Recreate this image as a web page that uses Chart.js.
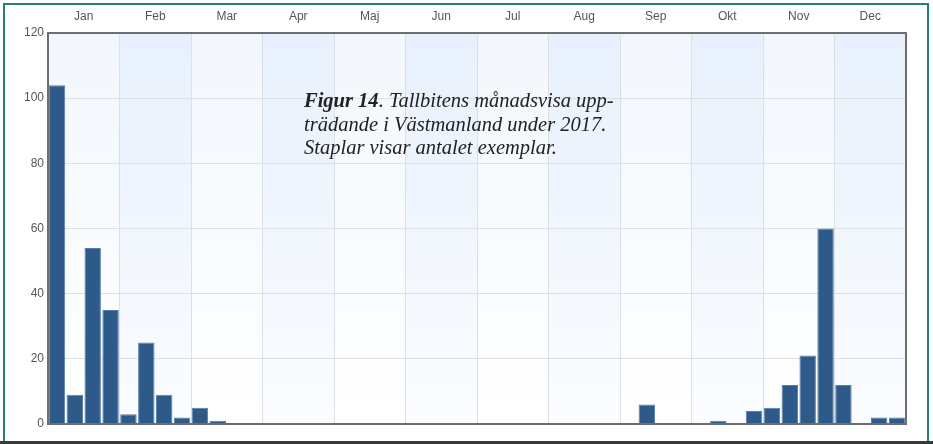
<!DOCTYPE html>
<html>
<head>
<meta charset="utf-8">
<script src="https://cdn.jsdelivr.net/npm/chart.js@4"></script>
<style>
  body { margin: 0; background: #fff; }
  #wrap { position: relative; width: 933px; height: 444px; }
  #note {
    position: absolute; left: 304px; top: 89px;
    font-family: "Liberation Serif", "Times New Roman", serif;
    font-style: italic; font-size: 20.5px; line-height: 23.5px; color: #222;
  }
</style>
</head>
<body>
<div id="wrap">
  <canvas id="chart" width="933" height="444"></canvas>
  <div id="note"><b>Figur 14</b>. Tallbitens månadsvisa upp-<br>trädande i Västmanland under 2017.<br>Staplar visar antalet exemplar.</div>
</div>
<script>
// 4 periods per month, 48 in total
const months = ['Jan', 'Feb', 'Mar', 'Apr', 'Maj', 'Jun', 'Jul', 'Aug', 'Sep', 'Okt', 'Nov', 'Dec'];
const counts = [
  104, 9, 54, 35,   // Jan
  3, 25, 9, 2,      // Feb
  5, 1, 0, 0,       // Mar
  0, 0, 0, 0,       // Apr
  0, 0, 0, 0,       // Maj
  0, 0, 0, 0,       // Jun
  0, 0, 0, 0,       // Jul
  0, 0, 0, 0,       // Aug
  0, 6, 0, 0,       // Sep
  0, 1, 0, 4,       // Okt
  5, 12, 21, 60,    // Nov
  12, 0, 2, 2       // Dec
];
const yTicks = [0, 20, 40, 60, 80, 100, 120];

const periods = counts.map((v, i) => months[Math.floor(i / 4)] + ' ' + (i % 4 + 1));

const frame = {
  id: 'frame',
  beforeDraw(chart) {
    const { ctx, chartArea: a } = chart;
    ctx.save();
    ctx.fillStyle = '#fff';
    ctx.fillRect(0, 0, chart.width, chart.height);
    const top = chart.scales.x2;
    const w = a.width / months.length;
    months.forEach((m, i) => {
      const g = ctx.createLinearGradient(0, a.top, 0, a.bottom);
      if (i % 2) {
        g.addColorStop(0, '#e7f0fc');
        g.addColorStop(1, '#fbfdff');
      } else {
        g.addColorStop(0, '#f2f7fd');
        g.addColorStop(1, '#ffffff');
      }
      ctx.fillStyle = g;
      const c = top.getPixelForTick(i);
      ctx.fillRect(c - w / 2, a.top, w, a.height);
    });
    ctx.restore();
  },
  afterDraw(chart) {
    const { ctx, chartArea: a } = chart;
    ctx.save();
    ctx.strokeStyle = '#6e6e6e';
    ctx.lineWidth = 2;
    ctx.strokeRect(a.left, a.top, a.width, a.height);
    // outer figure frame
    ctx.strokeStyle = '#2a7d74';
    ctx.lineWidth = 2;
    ctx.beginPath();
    ctx.moveTo(4, 444);
    ctx.lineTo(4, 4);
    ctx.lineTo(928, 4);
    ctx.lineTo(928, 444);
    ctx.stroke();
    ctx.fillStyle = '#3a3a3a';
    ctx.fillRect(0, 441, 933, 3);
    ctx.restore();
  }
};

new Chart(document.getElementById('chart'), {
  type: 'bar',
  data: {
    labels: periods,
    datasets: [{
      data: counts,
      backgroundColor: '#2d5a88',
      borderColor: '#5a7ea6',
      borderWidth: 1,
      barPercentage: 0.92,
      categoryPercentage: 1
    }]
  },
  options: {
    responsive: false,
    animation: false,
    layout: { padding: { left: 0, top: 0, right: 27, bottom: 20 } },
    plugins: { legend: { display: false }, tooltip: { enabled: false } },
    scales: {
      x: { display: false, grid: { display: false } },
      x2: {
        type: 'category',
        labels: months,
        position: 'top',
        offset: true,
        grid: { offset: true, color: '#dcdfe3', drawTicks: false },
        border: { display: false },
        ticks: { color: '#555', padding: 9, font: { family: 'Liberation Sans, Arial', size: 12 } },
        afterFit(s) { s.height = 33; }
      },
      y: {
        min: 0,
        max: 120,
        afterBuildTicks(s) { s.ticks = yTicks.map(v => ({ value: v })); },
        grid: { color: '#dcdfe3', drawTicks: false },
        border: { display: false },
        ticks: { color: '#555', padding: 4, font: { family: 'Liberation Sans, Arial', size: 12 } },
        afterFit(s) { s.width = 48; }
      }
    }
  },
  plugins: [frame]
});
</script>
</body>
</html>
